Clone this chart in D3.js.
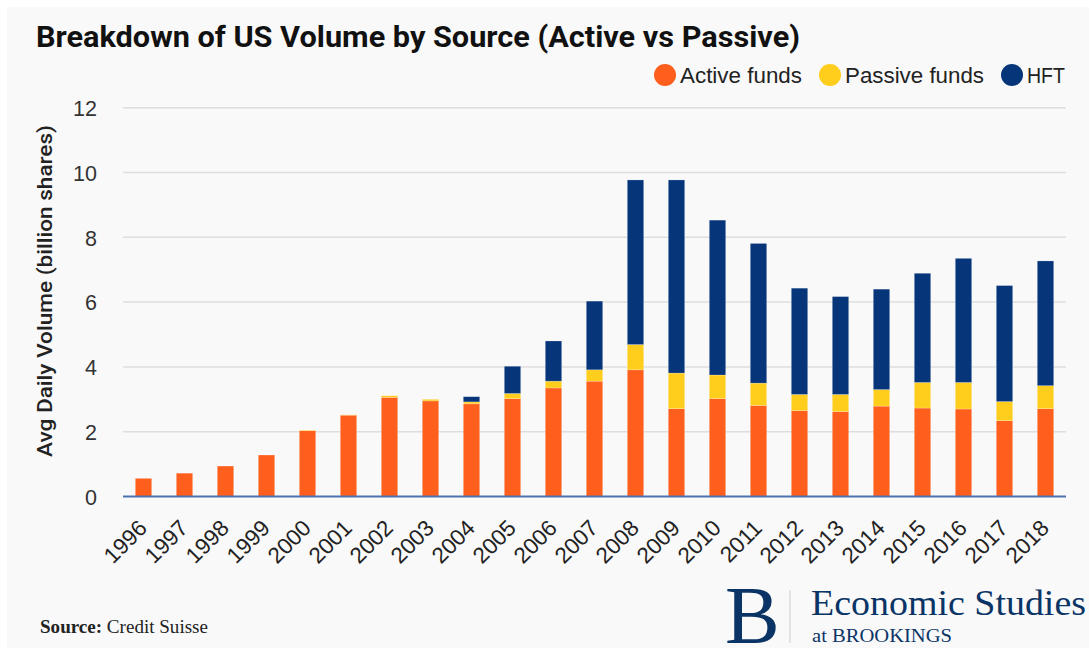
<!DOCTYPE html>
<html>
<head>
<meta charset="utf-8">
<script src="https://cdn.jsdelivr.net/npm/d3@7"></script>
<style>
  body { margin: 0; background: #ffffff; }
  svg { display: block; }
</style>
</head>
<body>
<script>

var years = ["1996","1997","1998","1999","2000","2001","2002","2003","2004","2005","2006","2007",
    "2008","2009","2010","2011","2012","2013","2014","2015","2016","2017","2018"]

var active = [0.56,0.72,0.94,1.28,2.03,2.51,3.06,2.95,2.86,3.02,3.35,3.56,3.91,2.71,3.02,2.81,2.65,2.62,2.79,2.73,2.70,2.34,2.71]
var passive = [0,0,0,0,0.02,0.01,0.05,0.05,0.06,0.16,0.21,0.35,0.78,1.10,0.73,0.69,0.50,0.53,0.51,0.79,0.82,0.59,0.71]
var hft = [0,0,0,0,0,0,0,0,0.16,0.84,1.24,2.12,5.08,5.96,4.78,4.31,3.28,3.02,3.10,3.37,3.83,3.58,3.85]

var seriesNames = ["Active funds", "Passive funds", "HFT"]
var colors = ["#fe5f1d", "#ffcd1c", "#06357a"]
var yTicks = [0, 2, 4, 6, 8, 10, 12]

var width = 1089
var height = 648

var svg = d3.select("body").append("svg")
    .attr("width", width)
    .attr("height", height)

// light panel behind everything
svg.append("rect")
    .attr("x", 7).attr("y", 7)
    .attr("width", width - 7).attr("height", height - 7)
    .attr("fill", "#f9f9f9")

var table = years.map((y, i) => {
    return {year: y, "Active funds": active[i], "Passive funds": passive[i], "HFT": hft[i]}
})

var stacked = d3.stack().keys(seriesNames)(table)

var x = d3.scaleBand()
    .domain(years)
    .range([123, 1066])
    .paddingInner(0.6)
    .paddingOuter(0.3)

var y = d3.scaleLinear()
    .domain([0, 12])
    .range([496.5, 107.7])

// gridlines
svg.append("g")
    .selectAll("line")
    .data(yTicks.slice(1))
    .enter()
    .append("line")
    .attr("x1", 123).attr("x2", 1066)
    .attr("y1", (d) => {return y(d)})
    .attr("y2", (d) => {return y(d)})
    .attr("stroke", "#dedede")
    .attr("stroke-width", 1.5)

// y tick labels
var yAxis = svg.append("g")
    .attr("transform", "translate(97,0)")
    .call(d3.axisLeft(y).tickValues(yTicks).tickSize(0).tickPadding(0))
yAxis.select(".domain").remove()
yAxis.selectAll("text")
    .attr("font-family", "'Liberation Sans', Arial, sans-serif")
    .attr("font-size", 21.5)
    .attr("fill", "#333")
    .attr("dy", "0.36em")

// bars
var layers = svg.append("g")
    .selectAll("g")
    .data(stacked)
    .enter()
    .append("g")
    .attr("fill", (d, i) => {return colors[i]})

layers.selectAll("rect")
    .data((d) => {return d})
    .enter()
    .append("rect")
    .filter((d) => {return d[1] - d[0] > 0})
    .attr("x", (d) => {return x(d.data.year)})
    .attr("width", x.bandwidth())
    .attr("y", (d) => {return y(d[1])})
    .attr("height", (d) => {return y(d[0]) - y(d[1])})
    .attr("stroke", "#ffffff")
    .attr("stroke-opacity", 0.35)
    .attr("stroke-width", 0.6)

// baseline
svg.append("line")
    .attr("x1", 123).attr("x2", 1066)
    .attr("y1", y(0)).attr("y2", y(0))
    .attr("stroke", "#4c73b0")
    .attr("stroke-width", 2)

// x labels
var xAxis = svg.append("g")
    .attr("transform", "translate(0," + (y(0) + 8) + ")")
    .call(d3.axisBottom(x).tickSize(0).tickPadding(0))
xAxis.select(".domain").remove()
xAxis.selectAll("text")
    .attr("font-family", "'Liberation Sans', Arial, sans-serif")
    .attr("font-size", 22.5)
    .attr("fill", "#222")
    .attr("text-anchor", "end")
    .attr("dy", "0.75em")
    .attr("transform", "translate(-7,13) rotate(-45)")

// y title
svg.append("text")
    .attr("transform", "translate(52,291) rotate(-90)")
    .attr("text-anchor", "middle")
    .attr("font-family", "Roboto, 'Liberation Sans', sans-serif")
    .attr("font-weight", 500)
    .attr("font-size", 20.5)
    .attr("fill", "#222")
    .attr("textLength", 332)
    .attr("lengthAdjust", "spacingAndGlyphs")
    .text("Avg Daily Volume (billion shares)")

// title
svg.append("text")
    .attr("x", 36).attr("y", 47)
    .attr("font-family", "Roboto, 'Liberation Sans', sans-serif")
    .attr("font-weight", "bold")
    .attr("font-size", 29)
    .attr("fill", "#111")
    .attr("textLength", 764)
    .attr("lengthAdjust", "spacingAndGlyphs")
    .text("Breakdown of US Volume by Source (Active vs Passive)")

// legend
var legendX = [665, 830, 1012]
var legendW = [122, 139, 38]
var legend = svg.append("g")
    .selectAll("g")
    .data(seriesNames)
    .enter()
    .append("g")
    .attr("transform", (d, i) => {return "translate(" + legendX[i] + ",75)"})

legend.append("circle")
    .attr("r", 11)
    .attr("fill", (d, i) => {return colors[i]})

legend.append("text")
    .attr("x", 15)
    .attr("dy", "0.36em")
    .attr("font-family", "'Liberation Sans', Arial, sans-serif")
    .attr("font-size", 22)
    .attr("fill", "#222")
    .attr("textLength", (d, i) => {return legendW[i]})
    .attr("lengthAdjust", "spacingAndGlyphs")
    .text((d) => {return d})

// source
var src = svg.append("text")
    .attr("x", 40).attr("y", 633)
    .attr("font-family", "'Liberation Serif', 'DejaVu Serif', serif")
    .attr("font-size", 18)
    .attr("fill", "#222")
    .attr("textLength", 168)
    .attr("lengthAdjust", "spacingAndGlyphs")
src.append("tspan").attr("font-weight", "bold").text("Source:")
src.append("tspan").text(" Credit Suisse")

// Brookings logo
var logo = svg.append("g").attr("fill", "#0b3466")
logo.append("text")
    .attr("x", 725).attr("y", 643)
    .attr("font-family", "'Liberation Serif', serif")
    .attr("font-size", 82)
    .text("B")
logo.append("line")
    .attr("x1", 790).attr("x2", 790)
    .attr("y1", 590).attr("y2", 643)
    .attr("stroke", "#c8ccd4")
    .attr("stroke-width", 1)
logo.append("text")
    .attr("x", 811).attr("y", 615)
    .attr("font-family", "'Liberation Serif', serif")
    .attr("font-size", 36)
    .attr("textLength", 275)
    .attr("lengthAdjust", "spacingAndGlyphs")
    .text("Economic Studies")
logo.append("text")
    .attr("x", 812).attr("y", 642)
    .attr("font-family", "'Liberation Serif', serif")
    .attr("font-size", 18.5)
    .attr("textLength", 140)
    .attr("lengthAdjust", "spacingAndGlyphs")
    .text("at BROOKINGS")

</script>
</body>
</html>
